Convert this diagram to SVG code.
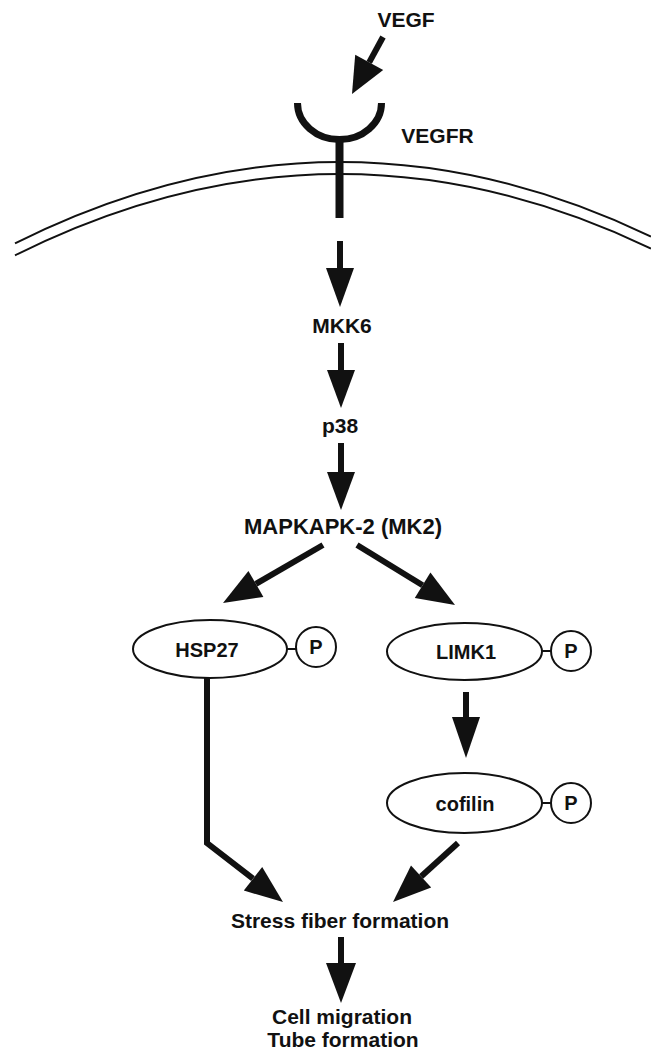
<svg xmlns="http://www.w3.org/2000/svg" width="651" height="1053" viewBox="0 0 651 1053">
<style>
text{font-family:"Liberation Sans",Arial,sans-serif;font-weight:bold;fill:#111;text-anchor:middle}
.lbl{font-size:21px}
.nl{font-size:20px}
.shaft{stroke:#111;stroke-width:6;fill:none}
.head{fill:#111;stroke:none}
.mem{stroke:#111;stroke-width:2;fill:none}
.ell{fill:#fff;stroke:#111;stroke-width:2}
.link{stroke:#111;stroke-width:2}
</style>
<rect width="651" height="1053" fill="#fff"/>
<g id="membrane">
<path class="mem" d="M15,243.3 Q177.5,162 340,162 Q495.5,162 651,236.5"/>
<path class="mem" d="M15,255.3 Q177.5,174 340,174 Q495.5,174 651,248.5"/>
</g>
<g id="vegf"><text class="lbl" x="406" y="27">VEGF</text></g>
<g id="vegfr">
<path d="M297.5,103 A42,36.5 0 0 0 381.5,103" fill="none" stroke="#111" stroke-width="7"/>
<line x1="339.5" y1="139" x2="339.5" y2="218" stroke="#111" stroke-width="8"/>
<text class="lbl" x="437.5" y="143">VEGFR</text>
</g>
<g id="mkk6"><text class="lbl" x="342" y="333">MKK6</text></g>
<g id="p38"><text class="lbl" x="340" y="433">p38</text></g>
<g id="mk2"><text class="lbl" x="343" y="534" style="font-size:22px">MAPKAPK-2 (MK2)</text></g>
<g id="hsp27">
<ellipse class="ell" cx="210" cy="649" rx="77" ry="29"/>
<line class="link" x1="287" y1="649" x2="296" y2="649"/>
<circle class="ell" cx="316" cy="647" r="20"/>
<text class="nl" x="207" y="657">HSP27</text>
<text class="nl" x="316" y="654">P</text>
</g>
<g id="limk1">
<ellipse class="ell" cx="464.5" cy="651.5" rx="77.5" ry="28.5"/>
<line class="link" x1="542" y1="651" x2="551" y2="651"/>
<circle class="ell" cx="571" cy="651" r="20"/>
<text class="nl" x="466" y="659">LIMK1</text>
<text class="nl" x="571" y="658">P</text>
</g>
<g id="cofilin">
<ellipse class="ell" cx="464.5" cy="803" rx="77.5" ry="30"/>
<line class="link" x1="542" y1="803" x2="551" y2="803"/>
<circle class="ell" cx="571" cy="803" r="20"/>
<text class="nl" x="465" y="811">cofilin</text>
<text class="nl" x="571" y="810">P</text>
</g>
<g id="stress"><text class="lbl" x="340" y="928">Stress fiber formation</text></g>
<g id="outcome">
<text class="lbl" x="342" y="1024">Cell migration</text>
<text class="lbl" x="343" y="1047">Tube formation</text>
</g>
<g id="connectors">
<line class="shaft" x1="383" y1="37" x2="369.2" y2="62.4" stroke-width="5"/>
<polygon class="head" points="352,94 383.2,70 355.2,54.8"/>
<line class="shaft" x1="340" y1="241" x2="340" y2="270"/>
<polygon class="head" points="326,268 354,268 340,307"/>
<line class="shaft" x1="341" y1="343" x2="341" y2="372"/>
<polygon class="head" points="327,370 355,370 341,408"/>
<line class="shaft" x1="341" y1="443" x2="341" y2="474"/>
<polygon class="head" points="327,472 355,472 341,510"/>
<line class="shaft" x1="323" y1="545" x2="255.9" y2="583.9"/>
<polygon class="head" points="223,603 263.4,596.9 248.4,570.9"/>
<line class="shaft" x1="357" y1="545" x2="422.6" y2="585.2"/>
<polygon class="head" points="455,605 414.8,598 430.4,572.4"/>
<polyline class="shaft" points="207,678 207,843 253,878.7"/>
<polygon class="head" points="283,902 243.8,890.6 262.2,866.9"/>
<line class="shaft" x1="466" y1="692" x2="466" y2="719"/>
<polygon class="head" points="452,717 480,717 466,758"/>
<line class="shaft" x1="458" y1="843" x2="421.1" y2="876.5"/>
<polygon class="head" points="393,902 431.2,887.6 411,865.4"/>
<line class="shaft" x1="341" y1="937" x2="341" y2="965"/>
<polygon class="head" points="326,963 356,963 341,1003"/>
</g>
</svg>
